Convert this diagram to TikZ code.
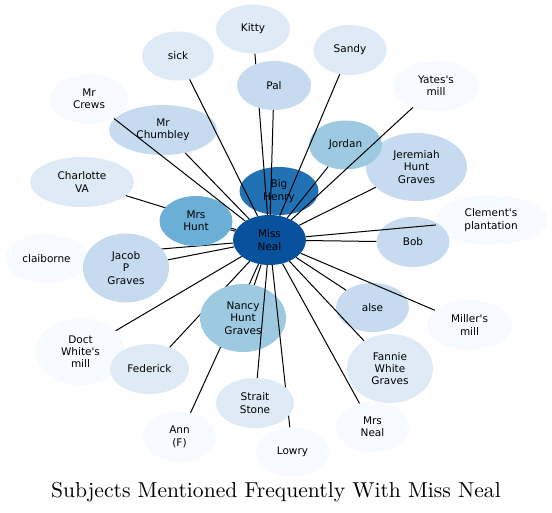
\documentclass[tikz,border=0pt]{standalone}
\usepackage{fontspec}
\newfontfamily\etiq{DejaVu Sans}[Ligatures=TeXOff]
\newfontfamily\titulofont{lmroman10-regular.otf}
\usetikzlibrary{shapes.geometric}
\definecolor{tono0}{HTML}{F7FBFF}
\definecolor{tono1}{HTML}{DEEBF7}
\definecolor{tono2}{HTML}{C6DBEF}
\definecolor{tono3}{HTML}{9ECAE1}
\definecolor{tono4}{HTML}{6BAED6}
\definecolor{tono5}{HTML}{2171B5}
\definecolor{tono6}{HTML}{08519C}
\newcommand{\temas}[1]{%
  \foreach \n/\px/\py/\rx/\ry/\c/\t in {#1}
    \node[tema, fill=\c, minimum width=2*\rx, minimum height=2*\ry] (\n) at (\px,\py) {\t};}
\newcommand{\aristas}[1]{%
  \foreach \n in {#1} \draw[arista] (miss) -- (\n);}
\begin{document}
\begin{tikzpicture}[x=1pt, y=-1pt,
    tema/.style={ellipse, inner sep=0pt, align=center,
                 font=\etiq\fontsize{10.5}{12.3}\selectfont},
    arista/.style={line width=1pt, black}]
  \useasboundingbox (0,0) rectangle (552,512);
  % temas, del mas claro al mas oscuro
  \temas{crews/89/99/39/25/tono0/{Mr\\Crews},
         yates/436/86/43/25/tono0/{Yates's\\mill},
         clement/491/220/56/25/tono0/{Clement's\\plantation},
         claiborne/46.5/258.5/41.5/24.5/tono0/{claiborne},
         miller/469.5/325/42.5/25/tono0/{Miller's\\mill},
         doct/80.5/351.5/44.5/33.5/tono0/{Doct\\White's\\mill},
         ann/179.5/437/36.5/25/tono0/{Ann\\(F)},
         lowry/292.5/452/36.5/24.5/tono0/{Lowry},
         mrsneal/372.5/427/36.5/25/tono0/{Mrs\\Neal},
         kitty/253/29/37/24.5/tono1/{Kitty},
         sick/178/56/36/24.5/tono1/{sick},
         sandy/350/50/36.5/25/tono1/{Sandy},
         charlotte/82/182/52/25/tono1/{Charlotte\\VA},
         federick/149.5/369/39.5/25/tono1/{Federick},
         fannie/390/368.5/43/34.5/tono1/{Fannie\\White\\Graves},
         chumbley/163/130/54/25/tono2/{Mr\\Chumbley},
         jeremiah/416.5/167/50.5/34/tono2/{Jeremiah\\Hunt\\Graves},
         bob/413/242/36.5/25/tono2/{Bob},
         alse/372.5/307.5/36.5/24.5/tono2/{alse},
         jordan/345.5/145/36.5/24.5/tono3/{Jordan},
         bighenry/279/191/39.5/24/tono5/{Big\\Henry},
         miss/269.5/240/36.5/25/tono6/{Miss\\Neal}}
  % aristas que quedan tapadas
  \aristas{kitty, charlotte, ann, federick, claiborne}
  \temas{pal/274/85.5/37/24.5/tono2/{Pal},
         jacob/126/268/43/34.5/tono2/{Jacob\\P\\Graves},
         nancy/243/318/43/34/tono3/{Nancy\\Hunt\\Graves},
         mrshunt/196/221/36.5/25/tono4/{Mrs\\Hunt}}
  \aristas{lowry}
  \temas{strait/255/403/39/25/tono1/{Strait\\Stone}}
  % resto de aristas
  \aristas{crews, yates, clement, miller, doct, mrsneal, sick, sandy, strait, fannie,
           pal, chumbley, jeremiah, jacob, bob, alse, jordan, nancy, mrshunt, bighenry}
  \node[anchor=base, font=\titulofont\fontsize{21.6}{26}\selectfont] (titulo) at (276,497)
    {Subjects Mentioned Frequently With Miss Neal};
\end{tikzpicture}
\end{document}
